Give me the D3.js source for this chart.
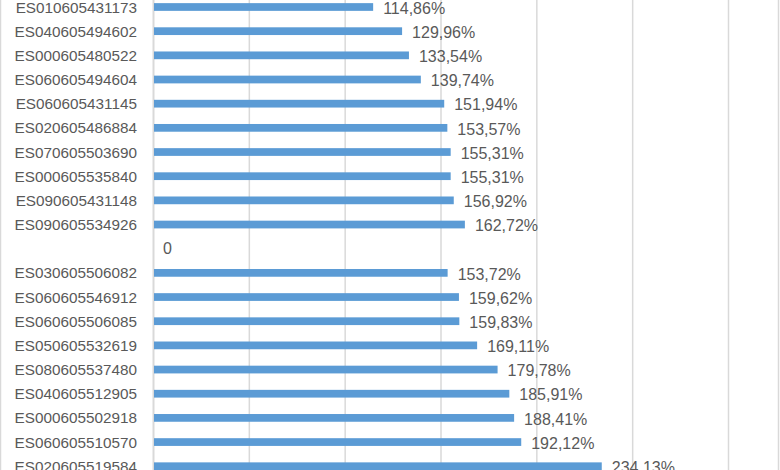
<!DOCTYPE html>
<html>
<head>
<meta charset="utf-8">
<script src="https://cdn.jsdelivr.net/npm/d3@7/dist/d3.min.js"></script>
<style>
  html, body { margin: 0; padding: 0; background: #fff; }
  svg { display: block; }
</style>
</head>
<body>
<svg id="chart" width="780" height="470"></svg>
<script>
const categories = [
  "ES010605431173", "ES040605494602", "ES000605480522", "ES060605494604",
  "ES060605431145", "ES020605486884", "ES070605503690", "ES000605535840",
  "ES090605431148", "ES090605534926", "",
  "ES030605506082", "ES060605546912", "ES060605506085", "ES050605532619",
  "ES080605537480", "ES040605512905", "ES000605502918", "ES060605510570",
  "ES020605519584"
];
const values = [
  114.86, 129.96, 133.54, 139.74, 151.94, 153.57, 155.31, 155.31, 156.92, 162.72,
  0,
  153.72, 159.62, 159.83, 169.11, 179.78, 185.91, 188.41, 192.12, 234.13
];
const valueLabels = [
  "114,86%", "129,96%", "133,54%", "139,74%", "151,94%", "153,57%", "155,31%",
  "155,31%", "156,92%", "162,72%", "0",
  "153,72%", "159,62%", "159,83%", "169,11%", "179,78%", "185,91%", "188,41%",
  "192,12%", "234,13%"
];
const tickValues = [0, 50, 100, 150, 200, 250, 300];

const svg = d3.select("#chart");
const W = 780, H = 470;
const font = "'Liberation Sans', Arial, sans-serif";
const textColor = "#595959";
const gridColor = "#D9D9D9";

const x = d3.scaleLinear().domain([0, 300]).range([153, 728]);
const step = 24.17;
const n = categories.length;
const y = d3.scaleBand()
  .domain(d3.range(n))
  .range([7 - step / 2, 7 - step / 2 + step * n])
  .paddingInner(0.68)
  .paddingOuter(0.34);

// chart border
svg.append("rect")
  .attr("x", 0.5).attr("y", -2).attr("width", W - 2).attr("height", H + 4)
  .attr("fill", "none").attr("stroke", gridColor).attr("stroke-width", 1.5);

// gridlines via axis
const gridAxis = d3.axisBottom(x).tickValues(tickValues).tickSize(H + 10).tickFormat("");
const g = svg.append("g").attr("transform", "translate(0,-5)").call(gridAxis);
g.select(".domain").remove();
g.selectAll(".tick line").attr("stroke", gridColor).attr("stroke-width", 1.5);
g.selectAll(".tick").filter(d => d === 0).select("line").attr("stroke-width", 2);

// bars
svg.append("g").selectAll("rect")
  .data(values)
  .join("rect")
  .attr("x", x(0) + 1)
  .attr("y", (d, i) => y(i))
  .attr("height", y.bandwidth())
  .attr("width", d => Math.max(0, x(d) - x(0) - 1))
  .attr("fill", "#5B9BD5");

// category labels
svg.append("g").selectAll("text")
  .data(categories)
  .join("text")
  .attr("x", 137)
  .attr("y", (d, i) => y(i) + y.bandwidth() / 2)
  .attr("dy", "0.36em")
  .attr("text-anchor", "end")
  .attr("font-family", font)
  .attr("font-size", 15.3)
  .attr("fill", textColor)
  .text(d => d);

// value labels
svg.append("g").selectAll("text")
  .data(values)
  .join("text")
  .attr("x", d => x(d) + 10)
  .attr("y", (d, i) => y(i) + y.bandwidth() / 2 + (i === 10 ? 0 : 1))
  .attr("dy", "0.36em")
  .attr("font-family", font)
  .attr("font-size", 16)
  .attr("fill", textColor)
  .text((d, i) => valueLabels[i]);
</script>
</body>
</html>
